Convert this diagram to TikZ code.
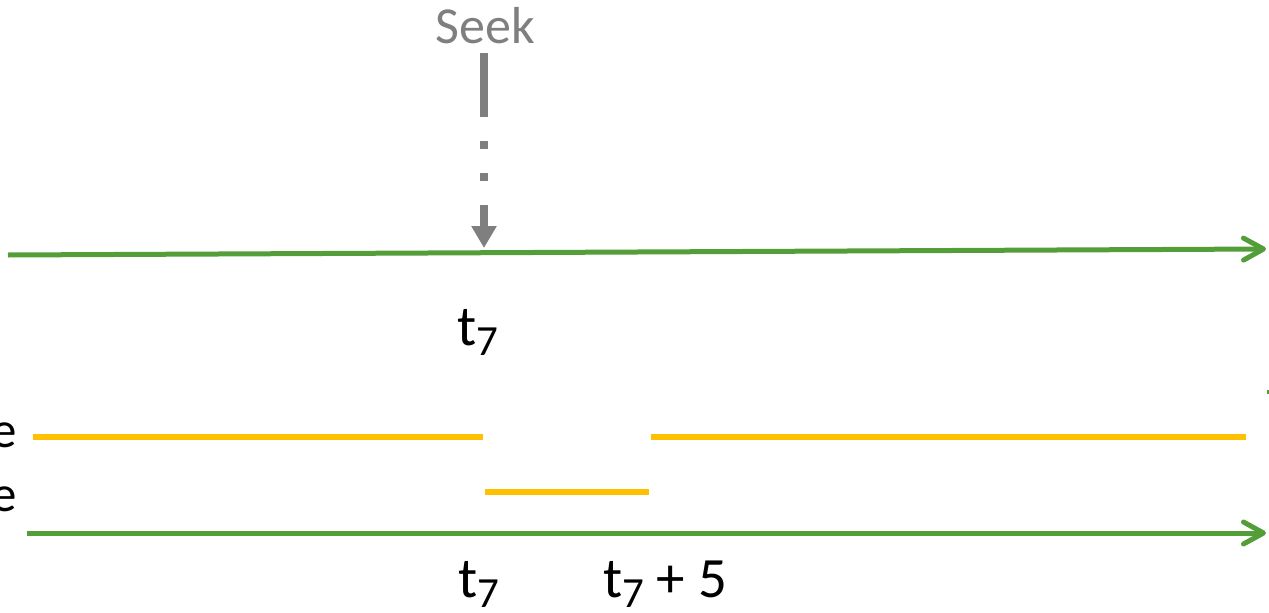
\documentclass[tikz,border=0pt]{standalone}
\usepackage{fontspec}
\setmainfont{Carlito}
\usetikzlibrary{arrows.meta}
\definecolor{lineGreen}{RGB}{84,158,58}
\definecolor{segYellow}{RGB}{255,192,0}
\definecolor{seekGray}{RGB}{127,127,127}
\newcommand{\tsub}[1]{t\raisebox{-10pt}{\fontsize{43}{43}\selectfont #1}}
\tikzset{
  timeline/.style={draw=lineGreen,line width=5pt,-{Straight Barb[length=20pt,width=22pt,line cap=round,line join=round]}},
  segment/.style={draw=segYellow,line width=6pt},
  lab/.style={inner sep=0pt,anchor=base,font=\fontsize{57}{57}\selectfont},
  sidelab/.style={inner sep=0pt,anchor=base east,font=\fontsize{51}{51}\selectfont}
}

\begin{document}
\begin{tikzpicture}[x=1pt,y=-1pt]
\useasboundingbox (0,0) rectangle (1269,613);

% --- Seek marker ---
\node[inner sep=0pt,anchor=base,text=seekGray,font=\fontsize{52}{52}\selectfont] (seek) at (485,43) {Seek};
\coordinate (seekend) at (484,248);
\draw[seekGray,line width=7.5pt,shorten <=9pt,
  dash pattern=on 64pt off 24pt on 8pt off 24pt on 8pt off 24pt on 80pt,
  -{Triangle[length=22pt,width=24pt]}] (seek.south -| seekend) -- (seekend);

% --- Upper time line ---
\coordinate (up0) at (8,255);
\coordinate (up1) at (1266,249);
\draw[timeline] (up0) -- (up1);
\node[lab] (t7up) at (478,345) {\tsub{7}};

% --- Segments ---
\node[sidelab] (eone) at (17,447) {e};
\node[sidelab] (etwo) at (17,511) {e};

\coordinate (ya0) at (33,437);
\coordinate (ya1) at (483,437);
\coordinate (yb0) at (651,437);
\coordinate (yb1) at (1246,437);
\coordinate (yc0) at (485,492);
\coordinate (yc1) at (649,492);
\draw[segment] (ya0) -- (ya1);
\draw[segment] (yb0) -- (yb1);
\draw[segment] (yc0) -- (yc1);

\fill[lineGreen] (1267,390) rectangle (1269,394);

% --- Lower time line ---
\coordinate (lo0) at (27,533);
\coordinate (lo1) at (1266,533);
\draw[timeline] (lo0) -- (lo1);
\node[lab] (t7lo) at (479,597) {\tsub{7}};
\node[lab] (t7five) at (665,597) {\tsub{7} + 5};
\end{tikzpicture}
\end{document}
